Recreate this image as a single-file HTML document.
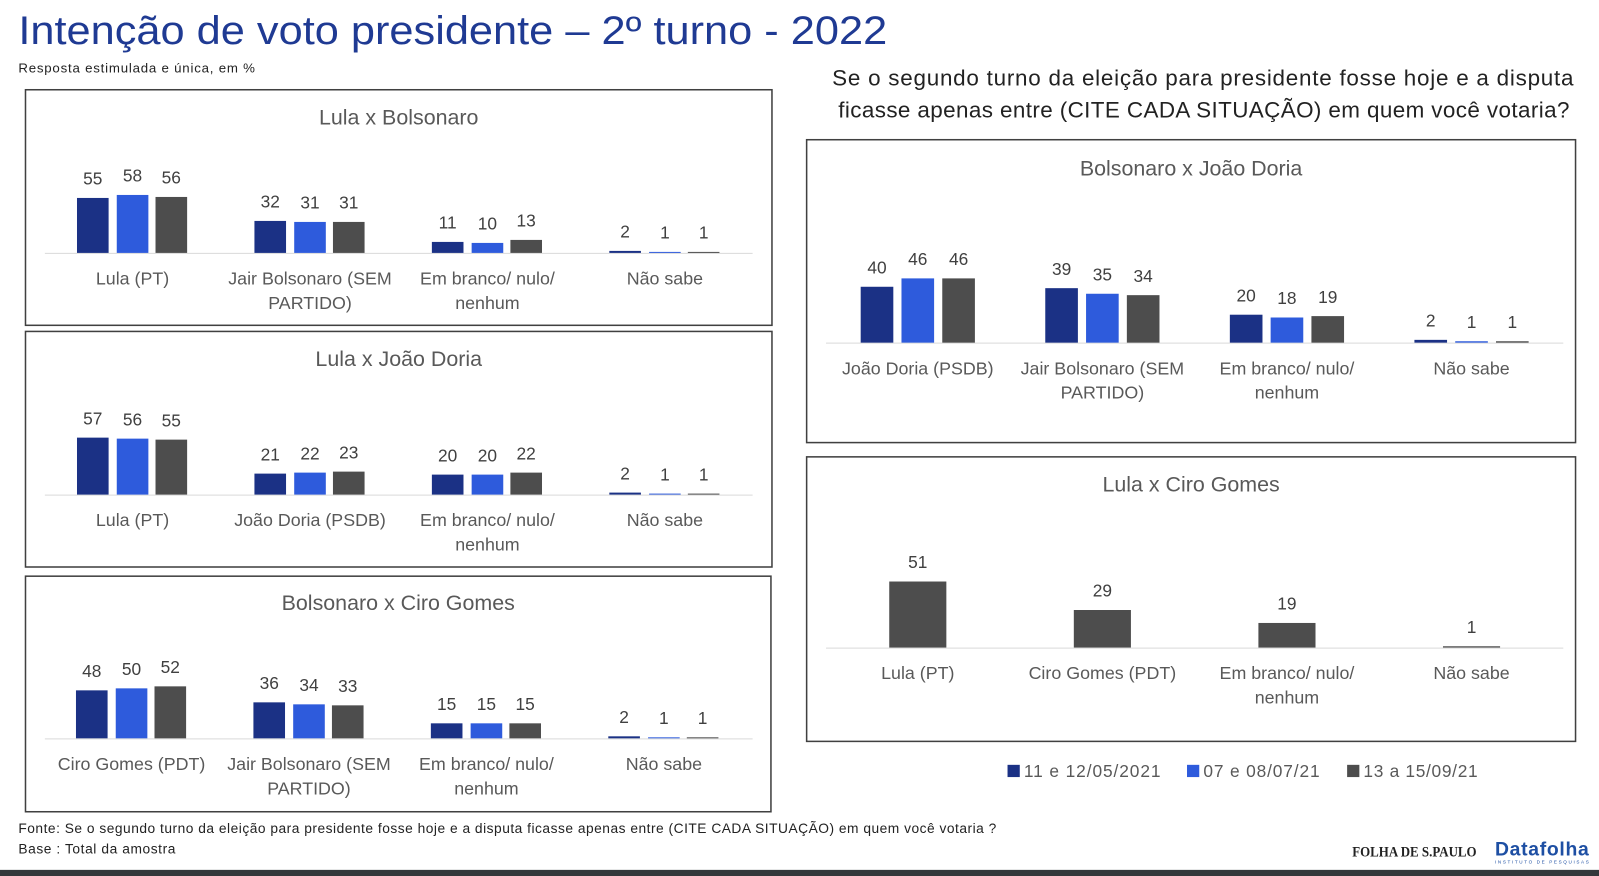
<!DOCTYPE html>
<html><head><meta charset="utf-8">
<style>
body{margin:0;background:#fff;width:1599px;height:876px;overflow:hidden;font-family:"Liberation Sans",sans-serif;}
svg{display:block}
text{font-family:"Liberation Sans",sans-serif;}
</style></head>
<body>
<svg id="chart" width="1599" height="876" viewBox="0 0 1568 859" xmlns="http://www.w3.org/2000/svg">
<text x="18" y="43" font-size="39" fill="#1f3a93" textLength="852" lengthAdjust="spacingAndGlyphs">Intenção de voto presidente – 2º turno - 2022</text>
<text x="18" y="71" font-size="13" fill="#222" textLength="232">Resposta estimulada e única, em %</text>
<text x="816" y="84" font-size="22" fill="#222" textLength="727">Se o segundo turno da eleição para presidente fosse hoje e a disputa</text>
<text x="822" y="115" font-size="22" fill="#222" textLength="717">ficasse apenas entre (CITE CADA SITUAÇÃO) em quem você votaria?</text>
<text x="18" y="817" font-size="13.5" fill="#222" textLength="959">Fonte: Se o segundo turno da eleição para presidente fosse hoje e a disputa ficasse apenas entre (CITE CADA SITUAÇÃO) em quem você votaria ?</text>
<text x="18" y="837" font-size="13.5" fill="#222" textLength="154">Base : Total da amostra</text>
<text x="1326" y="840" font-size="14" font-weight="bold" fill="#222" style="font-family:'Liberation Serif',serif" textLength="122" lengthAdjust="spacingAndGlyphs">FOLHA DE S.PAULO</text>
<text x="1466" y="839" font-size="19" font-weight="bold" fill="#1e4fa3" textLength="92">Datafolha</text>
<text x="1466" y="847" font-size="4.5" fill="#1e4fa3" textLength="92">INSTITUTO DE PESQUISAS</text>
<rect x="0" y="853" width="1568" height="10" fill="#33373a"/>
<g id="legend">
<rect x="988" y="750" width="12" height="12" fill="#1b3185"/>
<text x="1004" y="762" font-size="17" fill="#595959" textLength="134">11 e 12/05/2021</text>
<rect x="1164" y="750" width="12" height="12" fill="#2e5bdc"/>
<text x="1180" y="762" font-size="17" fill="#595959" textLength="114">07 e 08/07/21</text>
<rect x="1321" y="750" width="12" height="12" fill="#4d4d4d"/>
<text x="1337" y="762" font-size="17" fill="#595959" textLength="112">13 a 15/09/21</text>
</g>
</svg>
<script>
const colors = ["#1b3185", "#2e5bdc", "#4d4d4d"];
const p1Title = "Lula x Bolsonaro";
const p1Categories = [["Lula (PT)"], ["Jair Bolsonaro (SEM", "PARTIDO)"], ["Em branco/ nulo/", "nenhum"], ["Não sabe"]];
const p1May = [55, 32, 11, 2];
const p1Jul = [58, 31, 10, 1];
const p1Sep = [56, 31, 13, 1];
const p2Title = "Lula x João Doria";
const p2Categories = [["Lula (PT)"], ["João Doria (PSDB)"], ["Em branco/ nulo/", "nenhum"], ["Não sabe"]];
const p2May = [57, 21, 20, 2];
const p2Jul = [56, 22, 20, 1];
const p2Sep = [55, 23, 22, 1];
const p3Title = "Bolsonaro x Ciro Gomes";
const p3Categories = [["Ciro Gomes (PDT)"], ["Jair Bolsonaro (SEM", "PARTIDO)"], ["Em branco/ nulo/", "nenhum"], ["Não sabe"]];
const p3May = [48, 36, 15, 2];
const p3Jul = [50, 34, 15, 1];
const p3Sep = [52, 33, 15, 1];
const p4Title = "Bolsonaro x João Doria";
const p4Categories = [["João Doria (PSDB)"], ["Jair Bolsonaro (SEM", "PARTIDO)"], ["Em branco/ nulo/", "nenhum"], ["Não sabe"]];
const p4May = [40, 39, 20, 2];
const p4Jul = [46, 35, 18, 1];
const p4Sep = [46, 34, 19, 1];
const p5Title = "Lula x Ciro Gomes";
const p5Categories = [["Lula (PT)"], ["Ciro Gomes (PDT)"], ["Em branco/ nulo/", "nenhum"], ["Não sabe"]];
const p5Sep = [51, 29, 19, 1];

const NS = "http://www.w3.org/2000/svg";
const svg = document.getElementById("chart");
function mk(tag, attrs, parent) {
  const e = document.createElementNS(NS, tag);
  for (const k in attrs) e.setAttribute(k, attrs[k]);
  (parent || svg).appendChild(e);
  return e;
}
function txt(x, y, s, size, fill, parent) {
  const t = mk("text", {x: x, y: y, "font-size": size, fill: fill, "text-anchor": "middle"}, parent);
  t.textContent = s;
  return t;
}
function panel(name, box, title, titleY, baseY, axisX0, axisX1, c0, step, scale, offsets, barW, cats, series, seriesColors) {
  const g = mk("g", {});
  
  
  const r = mk("rect", {x: box[0], y: box[1], width: box[2], height: box[3], fill: "#fff", stroke: "#404040", "stroke-width": 1.5}, g);
  
  
  const tt = txt(box[0] + box[2] / 2, titleY, title, 21, "#595959", g);
  
  
  const ax = mk("line", {x1: axisX0, x2: axisX1, y1: baseY + 0.5, y2: baseY + 0.5, stroke: "#d9d9d9", "stroke-width": 1}, g);
  
  
  const xScale = i => c0 + i * step;
  const yScale = v => v * scale;
  cats.forEach((c, i) => {
    const cx = xScale(i);
    series.forEach((vals, s) => {
      const h = yScale(vals[i]);
      const bx = cx + offsets[s] - barW / 2;
      const b = mk("rect", {x: bx, y: baseY - h, width: barW, height: Math.max(h, 0.5), fill: seriesColors[s]}, g);
      
      
      const l = txt(cx + offsets[s], baseY - h - 13, String(vals[i]), 17, "#404040", g);
      
      
    });
    c.forEach((line, k) => {
      const cl = txt(cx, baseY + 31 + k * 24, line, 17.5, "#595959", g);
      
      
    });
  });
}
const off3L = [-39, 0, 38];
panel("panel-lula-bolsonaro", [25, 88, 732, 231], p1Title, 122, 248, 44, 738, 130, 174, 0.98, off3L, 31, p1Categories, [p1May, p1Jul, p1Sep], colors);
panel("panel-lula-doria", [25, 325, 732, 231], p2Title, 359, 485, 44, 738, 130, 174, 0.98, off3L, 31, p2Categories, [p2May, p2Jul, p2Sep], colors);
panel("panel-bolsonaro-ciro", [25, 565, 731, 231], p3Title, 598, 724, 44, 738, 129, 174, 0.98, off3L, 31, p3Categories, [p3May, p3Jul, p3Sep], colors);
panel("panel-bolsonaro-doria", [791, 137, 754, 297], p4Title, 172, 336, 810, 1533, 900, 181, 1.37, [-40, 0, 40], 32, p4Categories, [p4May, p4Jul, p4Sep], colors);
panel("panel-lula-ciro", [791, 448, 754, 279], p5Title, 482, 635, 810, 1533, 900, 181, 1.27, [0], 56, p5Categories, [p5Sep], [colors[2]]);
</script>
</body></html>
